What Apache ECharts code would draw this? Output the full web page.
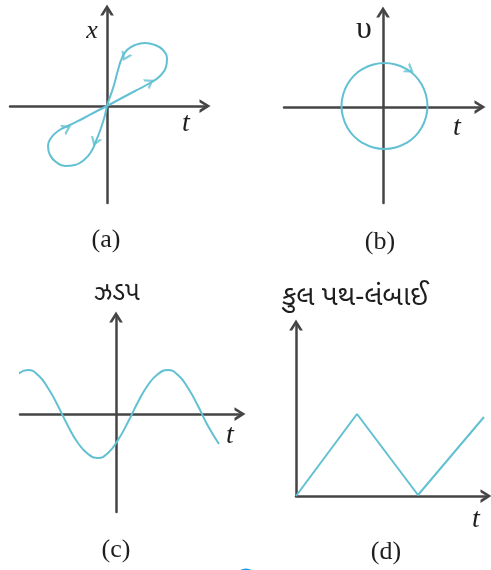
<!DOCTYPE html>
<html>
<head>
<meta charset="utf-8">
<script src="https://cdn.jsdelivr.net/npm/echarts@6/dist/echarts.min.js"></script>
<style>
  html, body { margin: 0; padding: 0; background: #fff; }
  #chart { width: 491px; height: 570px; }
</style>
</head>
<body>
<div id="chart"></div>
<script>
// (a) figure-eight loop: points [t, x], origin at the axes crossing
const upperLoop = [
  [0, 0], [13, 7], [28, 15], [43, 23], [53, 30], [59, 39], [60, 48], [56, 56],
  [48, 61], [38, 63], [28, 61], [20, 56], [15, 48], [11, 36], [7, 21], [3, 9], [0, 0]
]
const lowerLoop = [
  [-2, -9], [-6, -22], [-11, -35], [-16, -46], [-23, -54], [-32, -59], [-42, -60],
  [-51, -56], [-57, -49], [-59, -40], [-56, -32], [-49, -25], [-37, -19], [-23, -12],
  [-10, -5], [0, 0]
]
// arrow heads on the loop: [t, x, rotation in degrees]
const loopArrows = [
  [43, 24, -59], [18, 49, 155], [-12, -36, 160], [-40, -22, -62]
]

// (b) circle: points [t, v]
const circlePoints = [
  [44.5, 1], [43, 12], [38.7, 22.5], [32, 31.4], [23, 38.2], [12.6, 42.5], [1.5, 44],
  [-9.6, 42.5], [-20, 38.2], [-29, 31.4], [-35.7, 22.5], [-40, 12], [-41.5, 1],
  [-40, -10], [-35.7, -20.5], [-29, -29.4], [-20, -36.2], [-9.6, -40.5], [1.5, -42],
  [12.6, -40.5], [23, -36.2], [32, -29.4], [38.7, -20.5], [43, -10], [44.5, 1]
]
const circleArrows = [[27, 37, -125]]

// (c) speed wave
const waveT = [-98, -88, -78, -68, -58, -48, -38, -28, -18, -8, 2, 12, 22, 32, 42, 52, 62, 72, 82, 92, 103]
const waveY = [40, 44, 39, 26, 8, -12, -29, -40, -44, -39, -26, -8, 12, 29, 40, 44, 39, 26, 8, -12, -30]

// (d) total path length
const pathT = [0, 61, 122, 188]
const pathY = [0, 82, 1, 79]

// labels
const axisNames = { a: 'x', b: 'υ', c: 'ઝડપ', d: 'કુલ પથ-લંબાઈ', t: 't' }
const panelNames = ['(a)', '(b)', '(c)', '(d)']

const curveColor = '#62c0d3'
const axisColor = '#454545'
const chevron = 'path://M5,0L10,8L7.8,8L5,3.6L2.2,8L0,8Z'

const chart = echarts.init(document.getElementById('chart'))

// 坐标轴
const makeAxis = (gridIndex, min, max) => ({
  type: 'value',
  gridIndex,
  min,
  max,
  axisLine: {
    show: true,
    onZero: true,
    symbol: ['none', chevron],
    symbolSize: [14, 11],
    lineStyle: { color: axisColor, width: 2.5 }
  },
  axisTick: { show: false },
  axisLabel: { show: false },
  splitLine: { show: false }
})

const arrowData = list => list.map(a => ({ value: [a[0], a[1]], symbolRotate: a[2] }))

const arrowSeries = (idx, list) => ({
  type: 'scatter',
  xAxisIndex: idx,
  yAxisIndex: idx,
  symbol: chevron,
  symbolSize: [12, 9],
  itemStyle: { color: curveColor },
  data: arrowData(list),
  z: 5
})

const lineSeries = (idx, data) => ({
  type: 'line',
  xAxisIndex: idx,
  yAxisIndex: idx,
  data,
  smooth: true,
  showSymbol: false,
  lineStyle: { color: curveColor, width: 2 },
  z: 4
})

const serif = '"Liberation Serif", "DejaVu Serif", serif'
const guj = '"Noto Sans Gujarati", "Lohit Gujarati", "Noto Serif Gujarati", FreeSans, sans-serif'
const txt = (x, y, text, font) => ({
  type: 'text',
  x,
  y,
  style: { text, font, fill: '#1e1e1e', align: 'center', verticalAlign: 'middle' }
})

const option = {
  animation: false,
  backgroundColor: '#fff',
  grid: [
    { left: 10, top: 10, width: 195, height: 193 },
    { left: 284, top: 12, width: 196, height: 191 },
    { left: 20, top: 317, width: 220, height: 195 },
    { left: 296, top: 325, width: 190, height: 171 }
  ],
  xAxis: [
    makeAxis(0, -97, 98),
    makeAxis(1, -99, 97),
    makeAxis(2, -96, 124),
    makeAxis(3, 0, 190)
  ],
  yAxis: [
    makeAxis(0, -97, 96),
    makeAxis(1, -96, 95),
    makeAxis(2, -98, 97),
    makeAxis(3, 0, 171)
  ],
  series: [
    lineSeries(0, upperLoop.concat(lowerLoop)),
    arrowSeries(0, loopArrows),
    lineSeries(1, circlePoints),
    arrowSeries(1, circleArrows),
    lineSeries(2, waveT.map((t, i) => [t, waveY[i]])),
    {
      ...lineSeries(3, pathT.map((t, i) => [t, pathY[i]])),
      smooth: false
    }
  ],
  graphic: [
    txt(92, 31, axisNames.a, 'italic 26px ' + serif),
    txt(186, 124, axisNames.t, 'italic 28px ' + serif),
    txt(364, 30, axisNames.b, '32px ' + serif),
    txt(457, 128, axisNames.t, 'italic 28px ' + serif),
    txt(117, 295, axisNames.c, '26px ' + guj),
    txt(355, 300, axisNames.d, '28px ' + guj),
    txt(230, 436, axisNames.t, 'italic 28px ' + serif),
    txt(476, 520, axisNames.t, 'italic 28px ' + serif),
    txt(106, 240, panelNames[0], '26px ' + serif),
    txt(380, 242, panelNames[1], '26px ' + serif),
    txt(116, 550, panelNames[2], '26px ' + serif),
    txt(386, 552, panelNames[3], '26px ' + serif),
    {
      type: 'arc',
      shape: { cx: 246, cy: 580, r: 10, startAngle: Math.PI * 1.2, endAngle: Math.PI * 1.8 },
      style: { stroke: '#1e9be0', lineWidth: 3, fill: 'transparent' }
    }
  ]
}

chart.setOption(option)
</script>
</body>
</html>
